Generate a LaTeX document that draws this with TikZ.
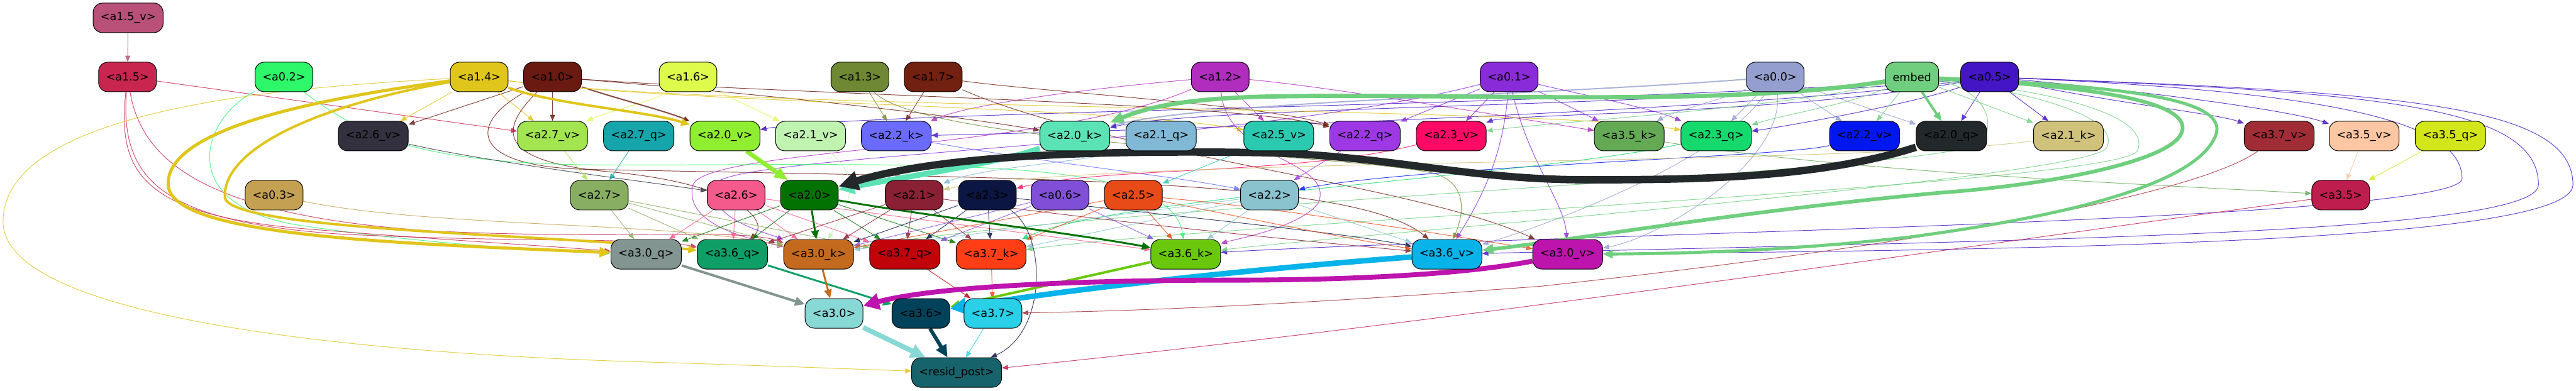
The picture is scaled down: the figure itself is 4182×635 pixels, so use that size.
\documentclass[tikz,border=0pt]{standalone}
\usepackage{fontspec}
\setmainfont{DejaVu Sans}
\usetikzlibrary{arrows.meta}
\pgfdeclarelayer{back}\pgfdeclarelayer{bg}
\pgfsetlayers{back,bg,main}
\definecolor{c15v}{HTML}{B85078}\definecolor{c15}{HTML}{C8264F}\definecolor{c02}{HTML}{2EF76A}
\definecolor{c14}{HTML}{E0C51A}\definecolor{c10}{HTML}{6A1A10}\definecolor{c16}{HTML}{DEFB4C}
\definecolor{c13}{HTML}{6E8833}\definecolor{c17}{HTML}{72200F}\definecolor{c12}{HTML}{B02DBE}
\definecolor{c01}{HTML}{8A2BD9}\definecolor{c00}{HTML}{949FCF}\definecolor{cem}{HTML}{6FCF7E}
\definecolor{c05}{HTML}{4315C4}\definecolor{c26v}{HTML}{33303F}\definecolor{c27v}{HTML}{A2E550}
\definecolor{c27q}{HTML}{15A5AA}\definecolor{c20v}{HTML}{90EE30}\definecolor{c21v}{HTML}{C0F2B0}
\definecolor{c22k}{HTML}{6B6BFF}\definecolor{c20k}{HTML}{5CE3B5}\definecolor{c21q}{HTML}{80B8D5}
\definecolor{c25v}{HTML}{2BC9B0}\definecolor{c22q}{HTML}{9E38E5}\definecolor{c23v}{HTML}{FF0A64}
\definecolor{c35k}{HTML}{64AA55}\definecolor{c23q}{HTML}{15D96C}\definecolor{c22v}{HTML}{0017F0}
\definecolor{c20q}{HTML}{23282A}\definecolor{c21k}{HTML}{D0C27A}\definecolor{c37v}{HTML}{A02C35}
\definecolor{c35v}{HTML}{FCC7A2}\definecolor{c35q}{HTML}{D2E61A}\definecolor{c03}{HTML}{C4A052}
\definecolor{c27}{HTML}{88AE62}\definecolor{c26}{HTML}{F45A8C}\definecolor{c20}{HTML}{027202}
\definecolor{c21}{HTML}{8A2034}\definecolor{c23}{HTML}{0C1642}\definecolor{c06}{HTML}{7F4FD7}
\definecolor{c25}{HTML}{E84A18}\definecolor{c22}{HTML}{8AC3CE}\definecolor{c35}{HTML}{BE1E4E}
\definecolor{c30q}{HTML}{839590}\definecolor{c36q}{HTML}{0E9F67}\definecolor{c30k}{HTML}{C46A1E}
\definecolor{c37q}{HTML}{C0040A}\definecolor{c37k}{HTML}{FF3E16}\definecolor{c36k}{HTML}{6AC80C}
\definecolor{c36v}{HTML}{08B3EA}\definecolor{c30v}{HTML}{BE14AE}\definecolor{c30}{HTML}{88D8D5}
\definecolor{c36}{HTML}{02425A}\definecolor{c37}{HTML}{2ACFE8}\definecolor{crp}{HTML}{16636C}
\tikzset{
  box/.style={draw=black, line width=1pt, rounded corners=15pt, minimum height=48pt,
    inner xsep=12pt, inner ysep=0pt, font=\fontsize{18}{20}\selectfont, text=black},
  ed/.style={draw=#1, line width=1pt, opacity=0.8, -{Triangle[length=10pt,width=8pt]}},
  tk/.style n args={3}{line width=#1pt, opacity=1, -{Triangle[length=#2pt,width=#3pt]}}
}
\begin{document}
\begin{tikzpicture}[x=1pt,y=-1pt]
\useasboundingbox (0,0) rectangle (4182,635);
\begin{pgfonlayer}{back}\fill[white] (0,0) rectangle (4182,635);\end{pgfonlayer}
% row 1
\node[box,fill=c15v] (a15v) at (208,29) {<a1.5\_v>};
% row 2
\node[box,fill=c15] (a15) at (207,125) {<a1.5>};
\node[box,fill=c02] (a02) at (461,125) {<a0.2>};
\node[box,fill=c14] (a14) at (778,125) {<a1.4>};
\node[box,fill=c10] (a10) at (897,125) {<a1.0>};
\node[box,fill=c16] (a16) at (1117,125) {<a1.6>};
\node[box,fill=c13] (a13) at (1396,125) {<a1.3>};
\node[box,fill=c17] (a17) at (1515,125) {<a1.7>};
\node[box,fill=c12] (a12) at (1981,125) {<a1.2>};
\node[box,fill=c01] (a01) at (2450,125) {<a0.1>};
\node[box,fill=c00] (a00) at (2882,125) {<a0.0>};
\node[box,fill=cem] (emb) at (3104,125) {embed};
\node[box,fill=c05] (a05) at (3230,125) {<a0.5>};
% row 3
\node[box,fill=c26v] (a26v) at (606,221) {<a2.6\_v>};
\node[box,fill=c27v] (a27v) at (897,221) {<a2.7\_v>};
\node[box,fill=c27q] (a27q) at (1037,221) {<a2.7\_q>};
\node[box,fill=c20v] (a20v) at (1177,221) {<a2.0\_v>};
\node[box,fill=c21v] (a21v) at (1316,221) {<a2.1\_v>};
\node[box,fill=c22k] (a22k) at (1455,221) {<a2.2\_k>};
\node[box,fill=c20k] (a20k) at (1745,221) {<a2.0\_k>};
\node[box,fill=c21q] (a21q) at (1885,221) {<a2.1\_q>};
\node[box,fill=c25v] (a25v) at (2076,221) {<a2.5\_v>};
\node[box,fill=c22q] (a22q) at (2216,221) {<a2.2\_q>};
\node[box,fill=c23v] (a23v) at (2356,221) {<a2.3\_v>};
\node[box,fill=c35k] (a35k) at (2645,221) {<a3.5\_k>};
\node[box,fill=c23q] (a23q) at (2786,221) {<a2.3\_q>};
\node[box,fill=c22v] (a22v) at (3027,221) {<a2.2\_v>};
\node[box,fill=c20q] (a20q) at (3168,221) {<a2.0\_q>};
\node[box,fill=c21k] (a21k) at (3358,221) {<a2.1\_k>};
\node[box,fill=c37v] (a37v) at (3700,221) {<a3.7\_v>};
\node[box,fill=c35v] (a35v) at (3838,221) {<a3.5\_v>};
\node[box,fill=c35q] (a35q) at (3978,221) {<a3.5\_q>};
% row 4
\node[box,fill=c03] (a03) at (445,317) {<a0.3>};
\node[box,fill=c27] (a27) at (973,317) {<a2.7>};
\node[box,fill=c26] (a26) at (1195,317) {<a2.6>};
\node[box,fill=c20] (a20) at (1314,317) {<a2.0>};
\node[box,fill=c21] (a21) at (1484,317) {<a2.1>};
\node[box,fill=c23] (a23) at (1603,317) {<a2.3>};
\node[box,fill=c06] (a06) at (1721,317) {<a0.6>};
\node[box,fill=c25] (a25) at (1840,317) {<a2.5>};
\node[box,fill=c22] (a22) at (2061,317) {<a2.2>};
\node[box,fill=c35] (a35) at (3800,317) {<a3.5>};
% row 5
\node[box,fill=c30q] (a30q) at (1049,413) {<a3.0\_q>};
\node[box,fill=c36q] (a36q) at (1189,413) {<a3.6\_q>};
\node[box,fill=c30k] (a30k) at (1329,413) {<a3.0\_k>};
\node[box,fill=c37q] (a37q) at (1469,413) {<a3.7\_q>};
\node[box,fill=c37k] (a37k) at (1609,413) {<a3.7\_k>};
\node[box,fill=c36k] (a36k) at (1925,413) {<a3.6\_k>};
\node[box,fill=c36v] (a36v) at (2349,413) {<a3.6\_v>};
\node[box,fill=c30v] (a30v) at (2545,413) {<a3.0\_v>};
% row 6
\node[box,fill=c30] (a30) at (1354,509) {<a3.0>};
\node[box,fill=c36] (a36) at (1495,509) {<a3.6>};
\node[box,fill=c37] (a37) at (1612,509) {<a3.7>};
% row 7
\node[box,fill=crp] (rp) at (1553,605) {<resid\_post>};

\begin{pgfonlayer}{bg}
\draw[ed=c15v] (a15v) -- (a15);
% thin edges row2 -> row3
\draw[ed=c15] (a15) -- (a27v);
\draw[ed=c14] (a14) -- (a26v);
\draw[ed=c10] (a10) -- (a26v);
\draw[ed=c14] (a14) -- (a27v);
\draw[ed=c10] (a10) -- (a27v);
\draw[ed=c16] (a16) .. controls (1060,165) and (990,180) .. (a27v);
\draw[ed=c10, line width=2pt] (a10) .. controls (1000,160) and (1080,180) .. (a20v);
\draw[ed=c05] (a05) .. controls (2500,175) and (1400,180) .. (a20v);
\draw[ed=c16] (a16) -- (a21v);
\draw[ed=c13] (a13) -- (a22k);
\draw[ed=c17] (a17) -- (a22k);
\draw[ed=c12] (a12) .. controls (1700,150) and (1560,175) .. (a22k);
\draw[ed=c05] (a05) .. controls (2800,185) and (1750,215) .. (a22k);
\draw[ed=c10] (a10) .. controls (1200,150) and (1500,180) .. (a20k);
\draw[ed=c12] (a12) -- (a25v);
\draw[ed=c14] (a14) .. controls (1100,168) and (1800,172) .. (a25v);
\draw[ed=c00, line width=2pt] (a00) .. controls (2500,155) and (1950,165) .. (a20k);
\draw[ed=c05] (a05) .. controls (2700,175) and (1950,172) .. (a20k);
\draw[ed=c01] (a01) -- (a22q);
\draw[ed=c10] (a10) .. controls (1300,155) and (2000,165) .. (a22q);
\draw[ed=c17] (a17) .. controls (1700,150) and (2050,170) .. (a22q);
\draw[ed=c01] (a01) -- (a23v);
\draw[ed=c05] (a05) .. controls (2900,185) and (2450,185) .. (a23v);
\draw[ed=cem] (emb) .. controls (2900,175) and (2500,200) .. (a23v);
\draw[ed=c12] (a12) .. controls (2150,140) and (2450,190) .. (a35k);
\draw[ed=c01] (a01) -- (a35k);
\draw[ed=c01] (a01) .. controls (2550,150) and (2680,175) .. (a23q);
\draw[ed=c14] (a14) .. controls (1200,180) and (2500,172) .. (a23q);
\draw[ed=c00] (a00) -- (a23q);
\draw[ed=c00] (a00) .. controls (2800,160) and (2720,180) .. (a35k);
\draw[ed=cem] (emb) .. controls (3000,170) and (2900,185) .. (a23q);
\draw[ed=c05] (a05) .. controls (3100,170) and (2900,205) .. (a23q);
\draw[ed=c00] (a00) -- (a22v);
\draw[ed=cem] (emb) -- (a22v);
\draw[ed=c00] (a00) -- (a20q);
\draw[ed=c05] (a05) -- (a20q);
\draw[ed=cem] (emb) -- (a21k);
\draw[ed=c05] (a05) -- (a21k);
\draw[ed=c05] (a05) .. controls (3450,170) and (3600,185) .. (a37v);
\draw[ed=c05] (a05) .. controls (3500,150) and (3720,180) .. (a35v);
% long edges to row 5
\draw[ed=c13] (a13) .. controls (1500,235) and (2200,250) .. (2330,282) .. controls (2385,300) and (2375,350) .. (a36v);
\draw[ed=c01] (a01) .. controls (2440,260) and (2400,330) .. (a36v);
\draw[ed=c01] (a01) .. controls (2480,260) and (2540,330) .. (a30v);
\draw[ed=c10] (a10) .. controls (760,200) and (760,270) .. (950,275) .. controls (1700,290) and (2200,290) .. (a36v);
\draw[ed=c10] (a10) .. controls (800,220) and (820,265) .. (1000,280) .. controls (1200,300) and (1250,360) .. (a36q);
\draw[ed=c17] (a17) .. controls (1800,250) and (2300,300) .. (a30v);
\draw[ed=c00] (a00) .. controls (2800,260) and (2500,370) .. (a36v);
\draw[ed=c00] (a00) .. controls (2900,260) and (2700,385) .. (a30v);
\draw[ed=c05] (a05) .. controls (3900,150) and (4177,170) .. (4177,300) .. controls (4177,390) and (3400,405) .. (a30v);
\draw[ed=c05] (a05) .. controls (3850,150) and (4121,170) .. (4121,300) .. controls (4121,380) and (3300,390) .. (a36v);
\draw[ed=c05] (a05) .. controls (3800,150) and (3997,200) .. (3997,290) .. controls (3997,360) and (2500,380) .. (a36k);
\draw[ed=cem] (emb) .. controls (3350,150) and (3493,190) .. (3470,245) .. controls (3440,300) and (2000,360) .. (a37k);
\draw[ed=cem] (emb) .. controls (3300,150) and (3445,190) .. (3420,240) .. controls (3390,290) and (2200,380) .. (a36k);
\draw[ed=cem] (emb) .. controls (3200,140) and (3245,180) .. (3220,230) .. controls (3180,280) and (1800,330) .. (a30k);
\draw[ed=c12] (a12) .. controls (1990,260) and (2170,260) .. (2140,330) .. controls (2110,370) and (2000,390) .. (a36k);
\draw[ed=c12] (a12) .. controls (1700,245) and (1150,240) .. (1125,300) .. controls (1110,360) and (1200,385) .. (a30k);
\draw[ed=c01] (a01) .. controls (2000,240) and (1180,250) .. (1160,300) .. controls (1145,355) and (1250,380) .. (a30k);
\draw[ed=c02] (a02) .. controls (330,190) and (280,330) .. (480,365) .. controls (700,398) and (900,408) .. (a30q);
\draw[ed=c02] (a02) .. controls (600,230) and (700,268) .. (1000,268) .. controls (1500,268) and (1900,250) .. (a36k);
\draw[ed=c15] (a15) .. controls (190,280) and (230,350) .. (500,372) .. controls (750,392) and (900,400) .. (a30q);
\draw[ed=c15] (a15) .. controls (195,290) and (260,360) .. (550,380) .. controls (850,395) and (1050,385) .. (a36q);
\draw[ed=c15] (a15) .. controls (230,260) and (330,350) .. (700,375) .. controls (1000,390) and (1200,370) .. (a30k);
\draw[ed=c14] (a14) .. controls (500,140) and (5,170) .. (5,360) .. controls (5,520) and (600,575) .. (1050,588) .. controls (1250,594) and (1400,600) .. (rp);
\draw[ed=c03] (a03) .. controls (700,370) and (1100,360) .. (a30k);
% row 3 -> row 4
\draw[ed=c26v] (a26v) .. controls (800,265) and (1050,295) .. (a26);
\draw[ed=c27v] (a27v) -- (a27);
\draw[ed=c27q] (a27q) -- (a27);
\draw[ed=c21v] (a21v) .. controls (1400,290) and (1380,330) .. (a30k);
\draw[ed=c21q] (a21q) .. controls (1780,262) and (1600,270) .. (a21);
\draw[ed=c22k] (a22k) .. controls (1700,265) and (1900,285) .. (a22);
\draw[ed=c23v] (a23v) .. controls (2100,285) and (1800,270) .. (a23);
\draw[ed=c25v] (a25v) -- (a25);
\draw[ed=c22q] (a22q) -- (a22);
\draw[ed=c22v] (a22v) .. controls (2900,255) and (2300,270) .. (a22);
\draw[ed=c23q] (a23q) .. controls (2500,285) and (1800,320) .. (a37k);
\draw[ed=c21k] (a21k) .. controls (3000,270) and (1800,255) .. (a21);
\draw[ed=c35k] (a35k) .. controls (3000,280) and (3500,300) .. (a35);
\draw[ed=c35v] (a35v) -- (a35);
\draw[ed=c35q] (a35q) -- (a35);
% row 4 -> row 5
\draw[ed=c27] (a27) -- (a30q);
\draw[ed=c27] (a27) -- (a36q);
\draw[ed=c27] (a27) -- (a30k);
\draw[ed=c27] (a27) -- (a37q);
\draw[ed=c26] (a26) -- (a30q);
\draw[ed=c26] (a26) -- (a36q);
\draw[ed=c26] (a26) -- (a30k);
\draw[ed=c26] (a26) -- (a37q);
\draw[ed=c26] (a26) -- (a36k);
\draw[ed=c20] (a20) -- (a30q);
\draw[ed=c20] (a20) -- (a36q);
\draw[ed=c20] (a20) -- (a37q);
\draw[ed=c20] (a20) -- (a37k);
\draw[ed=c21] (a21) -- (a36q);
\draw[ed=c21] (a21) -- (a30k);
\draw[ed=c21] (a21) -- (a37q);
\draw[ed=c21] (a21) -- (a37k);
\draw[ed=c21] (a21) .. controls (1800,360) and (2100,390) .. (a36v);
\draw[ed=c23] (a23) -- (a30k);
\draw[ed=c23] (a23) -- (a37q);
\draw[ed=c23] (a23) -- (a37k);
\draw[ed=c23] (a23) .. controls (1900,350) and (2200,380) .. (a36v);
\draw[ed=c06] (a06) -- (a30k);
\draw[ed=c06] (a06) -- (a36k);
\draw[ed=c06] (a06) -- (a37q);
\draw[ed=c25] (a25) -- (a37k);
\draw[ed=c25] (a25) -- (a36k);
\draw[ed=c25] (a25) -- (a30k);
\draw[ed=c25] (a25) .. controls (2000,350) and (2200,390) .. (a36v);
\draw[ed=c25] (a25) .. controls (2100,340) and (2400,390) .. (a30v);
\draw[ed=c22] (a22) -- (a36k);
\draw[ed=c22] (a22) -- (a37k);
\draw[ed=c22] (a22) -- (a36v);
\draw[ed=c22] (a22) -- (a30k);
% row 5/6/7
\draw[ed=c37q] (a37q) -- (a37);
\draw[ed=c37k] (a37k) -- (a37);
\draw[ed=c37] (a37) -- (rp);
\draw[ed=c23] (a23) .. controls (1700,380) and (1700,540) .. (rp);
\draw[ed=c35] (a35) .. controls (3200,400) and (2300,530) .. (rp);
\draw[ed=c37v] (a37v) .. controls (3560,320) and (3100,400) .. (2500,465) .. controls (2100,495) and (1850,505) .. (a37);
% thick edges
\draw[ed=c14, tk={4}{14}{12}] (a14) .. controls (900,170) and (1050,180) .. (a20v);
\draw[ed=c14, tk={5}{18}{16}] (a14) .. controls (480,165) and (270,215) .. (273,300) .. controls (276,385) and (650,395) .. (a30q);
\draw[ed=c14, tk={4}{14}{12}] (a14) .. controls (520,170) and (362,240) .. (365,320) .. controls (368,375) and (900,380) .. (a36q);
\draw[ed=c20, tk={3}{14}{12}] (a20) -- (a30k);
\draw[ed=c20, tk={3}{14}{12}] (a20) .. controls (1500,350) and (1750,380) .. (a36k);
\draw[ed=cem, tk={4}{14}{12}] (emb) -- (a20q);
\draw[ed=cem, tk={7}{22}{18}] (emb) .. controls (2800,175) and (2350,150) .. (2050,157) .. controls (1900,161) and (1850,180) .. (a20k);
\draw[ed=cem, tk={6}{18}{16}] (emb) .. controls (3400,140) and (3560,165) .. (3542,215) .. controls (3525,262) and (3330,300) .. (3150,313) .. controls (2850,340) and (2550,390) .. (a36v);
\draw[ed=cem, tk={5}{16}{14}] (emb) .. controls (3450,140) and (3620,160) .. (3597,220) .. controls (3570,290) and (3400,345) .. (3100,385) .. controls (2900,408) and (2720,412) .. (a30v);
\draw[ed=c20v, tk={7}{22}{18}] (a20v) -- (a20);
\draw[ed=c20k, tk={9}{26}{24}] (a20k) .. controls (1620,265) and (1480,285) .. (a20);
\draw[ed=c20q, tk={12}{32}{30}] (a20q) .. controls (2950,290) and (2750,292) .. (2576,292) .. controls (2380,292) and (2250,252) .. (2050,248) .. controls (1750,243) and (1520,255) .. (a20);
\draw[ed=c36k, tk={4}{16}{14}] (a36k) -- (a36);
\draw[ed=c30q, tk={4}{16}{14}] (a30q) -- (a30);
\draw[ed=c36q, tk={3}{14}{12}] (a36q) -- (a36);
\draw[ed=c30k, tk={3}{14}{12}] (a30k) -- (a30);
\draw[ed=c36v, tk={9}{26}{26}] (a36v) .. controls (2100,432) and (1800,460) .. (a36);
\draw[ed=c30v, tk={8}{26}{26}] (a30v) .. controls (2380,445) and (2200,455) .. (2000,455) .. controls (1750,455) and (1520,465) .. (a30);
\draw[ed=c30, tk={8}{24}{22}] (a30) -- (rp);
\draw[ed=c36, tk={6}{20}{18}] (a36) -- (rp);
\end{pgfonlayer}
\end{tikzpicture}
\end{document}
